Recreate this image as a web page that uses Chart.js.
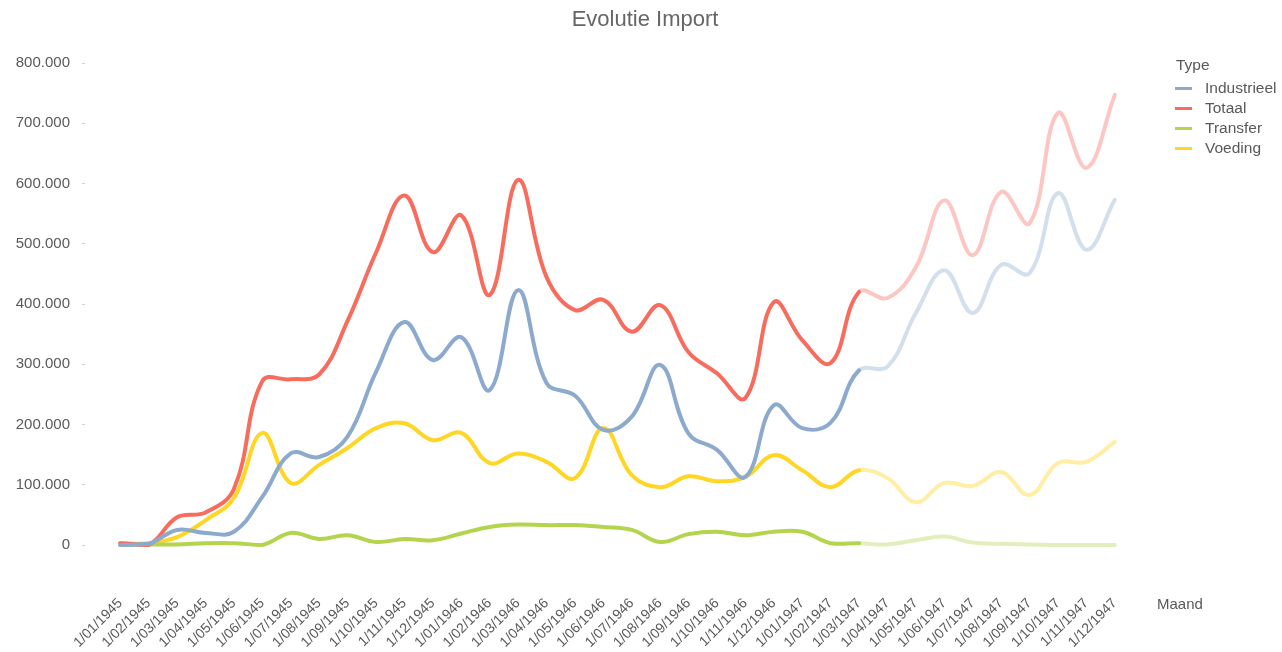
<!DOCTYPE html>
<html>
<head>
<meta charset="utf-8">
<script src="https://cdn.jsdelivr.net/npm/chart.js@4.4.1/dist/chart.umd.min.js"></script>
<style>
html,body{margin:0;padding:0;background:#fff;}
#wrap{position:relative;width:1282px;height:652px;}
</style>
</head>
<body>
<div id="wrap"><canvas id="c" width="1282" height="652"></canvas></div>
<script>
// ---- data ----
const months = ["1/01/1945","1/02/1945","1/03/1945","1/04/1945","1/05/1945","1/06/1945","1/07/1945","1/08/1945","1/09/1945","1/10/1945","1/11/1945","1/12/1945",
"1/01/1946","1/02/1946","1/03/1946","1/04/1946","1/05/1946","1/06/1946","1/07/1946","1/08/1946","1/09/1946","1/10/1946","1/11/1946","1/12/1946",
"1/01/1947","1/02/1947","1/03/1947","1/04/1947","1/05/1947","1/06/1947","1/07/1947","1/08/1947","1/09/1947","1/10/1947","1/11/1947","1/12/1947"];

const industrieel = [0, 2000, 25000, 20000, 22000, 80000, 152000, 146000, 180000, 287000, 370000, 307000,
  345000, 257000, 423000, 269000, 248000, 191000, 213000, 299000, 185000, 158000, 113000, 232000,
  194000, 203000, 290000, 296000, 385000, 456000, 385000, 465000, 451000, 584000, 490000, 573000];

const totaal = [3000, 0, 46000, 54000, 93000, 272000, 275000, 283000, 372000, 485000, 580000, 486000,
  547000, 415000, 606000, 445000, 390000, 407000, 354000, 398000, 320000, 285000, 244000, 403000,
  340000, 302000, 420000, 410000, 461000, 572000, 481000, 586000, 534000, 717000, 626000, 747000];

const transfer = [0, 1000, 1000, 3000, 3000, 0, 20000, 10000, 16000, 5000, 10000, 8000,
  19000, 30000, 34000, 33000, 33000, 30000, 25000, 5000, 18000, 22000, 16000, 22000,
  22000, 3000, 3000, 1000, 8000, 14000, 4000, 2000, 1000, 0, 0, 0];

const voeding = [3000, 3000, 13000, 41000, 78000, 186000, 103000, 133000, 161000, 194000, 202000, 174000,
  186000, 136000, 152000, 138000, 111000, 194000, 116000, 96000, 114000, 106000, 113000, 149000,
  124000, 96000, 124000, 111000, 71000, 103000, 98000, 121000, 83000, 136000, 138000, 171000];

const seriesNames = ["Industrieel", "Totaal", "Transfer", "Voeding"];
const yTicks = [0, 100000, 200000, 300000, 400000, 500000, 600000, 700000, 800000];
const forecastStart = 26; // from 1/03/1947 onward the lines are faded
const chartTitle = "Evolutie Import";
const legendTitle = "Type";
const xTitle = "Maand";

// ---- styles ----
const solid = ["rgb(140,170,205)", "rgb(248,108,94)", "rgb(180,212,78)", "rgb(255,214,35)"];
const faded = ["rgba(140,170,205,0.38)", "rgba(248,108,94,0.38)", "rgba(180,212,78,0.38)", "rgba(255,214,35,0.42)"];
const FONT = '"Liberation Sans", Arial, sans-serif';
const TXT = '#595959';

Chart.defaults.font.family = FONT;

const values = [industrieel, totaal, transfer, voeding];
const datasets = values.map((v, i) => ({
  label: seriesNames[i],
  data: v,
  borderColor: solid[i],
  backgroundColor: solid[i],
  borderWidth: 4,
  pointRadius: 0,
  pointHoverRadius: 0,
  tension: 0.4,
  fill: false,
  clip: false,
  borderCapStyle: 'round',
  segment: {
    borderColor: ctx => ctx.p0DataIndex >= forecastStart ? faded[i] : solid[i]
  }
}));

function fmt(v) {
  return String(Math.round(v)).replace(/\B(?=(\d{3})+(?!\d))/g, '.');
}

const sideTexts = {
  id: 'sideTexts',
  afterDraw(chart) {
    const ctx = chart.ctx;
    ctx.save();
    // title
    ctx.font = '22px ' + FONT;
    ctx.fillStyle = '#666666';
    ctx.textAlign = 'center';
    ctx.textBaseline = 'middle';
    ctx.fillText(chartTitle, 645, 20);
    // legend
    ctx.font = '15.5px ' + FONT;
    ctx.fillStyle = TXT;
    ctx.textAlign = 'left';
    ctx.fillText(legendTitle, 1176, 66);
    chart.data.datasets.forEach((ds, i) => {
      const y = 88.5 + i * 20;
      ctx.strokeStyle = solid[i];
      ctx.lineWidth = 3;
      ctx.beginPath();
      ctx.moveTo(1175, y);
      ctx.lineTo(1192, y);
      ctx.stroke();
      ctx.fillStyle = TXT;
      ctx.fillText(ds.label, 1205, y);
    });
    ctx.font = '15px ' + FONT;
    ctx.fillText(xTitle, 1157, 605);
    ctx.restore();
  }
};

new Chart(document.getElementById('c'), {
  type: 'line',
  data: { labels: months, datasets },
  plugins: [sideTexts],
  options: {
    responsive: false,
    animation: false,
    devicePixelRatio: 1,
    layout: { padding: { left: 0, right: 153, top: 63, bottom: 0 } },
    plugins: {
      legend: { display: false },
      tooltip: { enabled: false },
      title: { display: false }
    },
    scales: {
      x: {
        type: 'category',
        offset: true,
        grid: { display: false },
        border: { display: false },
        ticks: {
          autoSkip: false,
          minRotation: 45,
          maxRotation: 45,
          color: TXT,
          font: { size: 14 },
          padding: 42
        },
        afterFit(s) { s.height = 107; }
      },
      y: {
        min: 0,
        max: 800000,
        afterBuildTicks(s) { s.ticks = yTicks.map(v => ({ value: v })); },
        grid: {
          drawOnChartArea: false,
          drawTicks: true,
          tickLength: 24,
          tickColor: '#d0d0d0',
          tickBorderDash: [3, 100]
        },
        border: { display: false },
        ticks: {
          color: TXT,
          font: { size: 15 },
          padding: 12,
          callback: v => fmt(v)
        },
        afterFit(s) { s.width = 106; }
      }
    }
  }
});
</script>
</body>
</html>
